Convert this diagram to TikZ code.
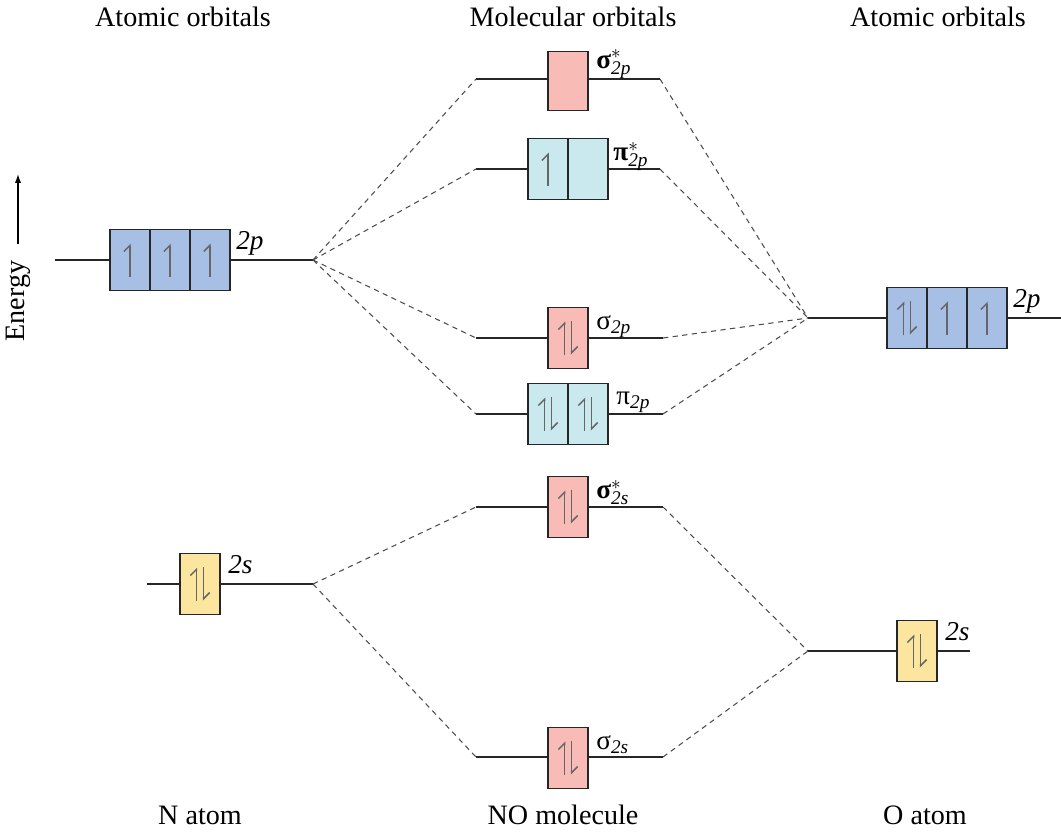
\documentclass[tikz,border=0pt]{standalone}
\usepackage{fontspec}
\setmainfont{Liberation Serif}
\usetikzlibrary{arrows.meta,positioning}
\definecolor{pblue}{RGB}{167,191,228}
\definecolor{pcyan}{RGB}{201,233,239}
\definecolor{ppink}{RGB}{249,187,181}
\definecolor{pyellow}{RGB}{252,229,158}
\begin{document}
\begin{tikzpicture}[
    x=0.02cm, y=-0.02cm,
    % Define styles
    cell/.style={
        rectangle,
        draw=black!85,
        line width=0.8pt,
        minimum width=0.8cm,
        minimum height=1.22cm,
        inner sep=0pt,
        outer sep=0pt
    },
    level/.style={
        line width=0.7pt,
        black!85
    },
    link/.style={
        line width=0.6pt,
        black!70,
        dash pattern=on 3pt off 2.5pt
    },
    elec/.style={
        line width=0.85pt,
        black!60,
        -{Straight Barb[left,length=3.5pt,width=7pt]}
    },
    plaintext/.style={
        font=\fontsize{16}{19}\selectfont
    },
    orblabel/.style={
        font=\fontsize{15.5}{18}\selectfont,
        anchor=base west,
        inner sep=0pt
    }
]

% Electrons
\def\eup#1{\draw[elec] ([yshift=-0.33cm]#1.center) -- ([yshift=0.33cm]#1.center);}
\def\epair#1{%
  \draw[elec] ([xshift=-0.07cm,yshift=-0.34cm]#1.center) -- ([xshift=-0.07cm,yshift=0.33cm]#1.center);
  \draw[elec] ([xshift=0.07cm,yshift=0.34cm]#1.center) -- ([xshift=0.07cm,yshift=-0.33cm]#1.center);}
\def\sub#1{\mbox{\fontsize{11}{12}\selectfont\itshape #1}}

\useasboundingbox (0,0) rectangle (1061,833);

% Titles
\node[plaintext] (tleft) at (183,17) {Atomic orbitals};
\node[plaintext] (tmid) at (573,17) {Molecular orbitals};
\node[plaintext] (tright) at (938,17) {Atomic orbitals};
\node[plaintext] (natom) at (200,815) {N atom};
\node[plaintext] (nomol) at (563,815) {NO molecule};
\node[plaintext] (oatom) at (925,815) {O atom};

% Energy axis
\node[plaintext, rotate=90] (energy) at (18,301) {Energy};
\coordinate (ebase) at (18,244);
\coordinate (etip) at (18,174);
\draw[line width=0.7pt, -{Latex[length=5pt,width=3.5pt]}] (ebase) -- (etip);

% N atom 2p
\coordinate (n2pL) at (55,260);
\coordinate (n2pR) at (313,260);
\draw[level] (n2pL) -- (n2pR);
\node[cell, fill=pblue] (n2pa) at (130,260) {};
\node[cell, fill=pblue, right=0pt of n2pa] (n2pb) {};
\node[cell, fill=pblue, right=0pt of n2pb] (n2pc) {};
\eup{n2pa} \eup{n2pb} \eup{n2pc}
\node[orblabel] at ([xshift=0.12cm,yshift=-0.4cm]n2pc.north east) {\itshape 2p};

% N atom 2s
\coordinate (n2sL) at (147,584);
\coordinate (n2sR) at (313,584);
\draw[level] (n2sL) -- (n2sR);
\node[cell, fill=pyellow] (n2s) at (200,584) {};
\epair{n2s}
\node[orblabel] at ([xshift=0.16cm,yshift=-0.4cm]n2s.north east) {\itshape 2s};

% O atom 2p
\coordinate (o2pL) at (808,318);
\coordinate (o2pR) at (1061,318);
\draw[level] (o2pL) -- (o2pR);
\node[cell, fill=pblue] (o2pa) at (907,318) {};
\node[cell, fill=pblue, right=0pt of o2pa] (o2pb) {};
\node[cell, fill=pblue, right=0pt of o2pb] (o2pc) {};
\epair{o2pa} \eup{o2pb} \eup{o2pc}
\node[orblabel] at ([xshift=0.12cm,yshift=-0.4cm]o2pc.north east) {\itshape 2p};

% O atom 2s
\coordinate (o2sL) at (808,651);
\coordinate (o2sR) at (970,651);
\draw[level] (o2sL) -- (o2sR);
\node[cell, fill=pyellow] (o2s) at (917,651) {};
\epair{o2s}
\node[orblabel] at ([xshift=0.16cm,yshift=-0.4cm]o2s.north east) {\itshape 2s};

% sigma* 2p
\coordinate (sp2starL) at (476,79);
\coordinate (sp2starR) at (660,79);
\draw[level] (sp2starL) -- (sp2starR);
\node[cell, fill=ppink, minimum height=1.18cm] (sp2star) at (568,81) {};
\node[orblabel] at ([xshift=0.16cm,yshift=-0.33cm]sp2star.north east) {$\mbox{\bfseries σ}^{*}_{\sub{2p}}$};

% pi* 2p
\coordinate (pp2starL) at (476,169);
\coordinate (pp2starR) at (660,169);
\draw[level] (pp2starL) -- (pp2starR);
\node[cell, fill=pcyan] (pp2stara) at (548,169) {};
\node[cell, fill=pcyan, right=0pt of pp2stara] (pp2starb) {};
\eup{pp2stara}
\node[orblabel] at ([xshift=0.1cm,yshift=-0.44cm]pp2starb.north east) {$\mbox{\bfseries π}^{*}_{\sub{2p}}$};

% sigma 2p
\coordinate (sp2L) at (476,338);
\coordinate (sp2R) at (663,338);
\draw[level] (sp2L) -- (sp2R);
\node[cell, fill=ppink] (sp2) at (568,338) {};
\epair{sp2}
\node[orblabel] at ([xshift=0.16cm,yshift=-0.44cm]sp2.north east) {$\mbox{σ}_{\sub{2p}}$};

% pi 2p
\coordinate (pp2L) at (476,414);
\coordinate (pp2R) at (663,414);
\draw[level] (pp2L) -- (pp2R);
\node[cell, fill=pcyan] (pp2a) at (548,414) {};
\node[cell, fill=pcyan, right=0pt of pp2a] (pp2b) {};
\epair{pp2a} \epair{pp2b}
\node[orblabel] at ([xshift=0.16cm,yshift=-0.42cm]pp2b.north east) {$\mbox{π}_{\sub{2p}}$};

% sigma* 2s
\coordinate (ss2starL) at (476,507);
\coordinate (ss2starR) at (663,507);
\draw[level] (ss2starL) -- (ss2starR);
\node[cell, fill=ppink] (ss2star) at (568,507) {};
\epair{ss2star}
\node[orblabel] at ([xshift=0.16cm,yshift=-0.44cm]ss2star.north east) {$\mbox{\bfseries σ}^{*}_{\sub{2s}}$};

% sigma 2s
\coordinate (ss2L) at (476,757);
\coordinate (ss2R) at (663,757);
\draw[level] (ss2L) -- (ss2R);
\node[cell, fill=ppink] (ss2) at (568,758) {};
\epair{ss2}
\node[orblabel] at ([xshift=0.16cm,yshift=-0.44cm]ss2.north east) {$\mbox{σ}_{\sub{2s}}$};

% Correlation lines, N side
\draw[link] (n2pR) -- (sp2starL);
\draw[link] (n2pR) -- (pp2starL);
\draw[link] (n2pR) -- (sp2L);
\draw[link] (n2pR) -- (pp2L);
\draw[link] (n2sR) -- (ss2starL);
\draw[link] (n2sR) -- (ss2L);

% Correlation lines, O side
\draw[link] (sp2starR) -- (o2pL);
\draw[link] (pp2starR) -- (o2pL);
\draw[link] (sp2R) -- (o2pL);
\draw[link] (pp2R) -- (o2pL);
\draw[link] (ss2starR) -- (o2sL);
\draw[link] (ss2R) -- (o2sL);

\end{tikzpicture}
\end{document}
